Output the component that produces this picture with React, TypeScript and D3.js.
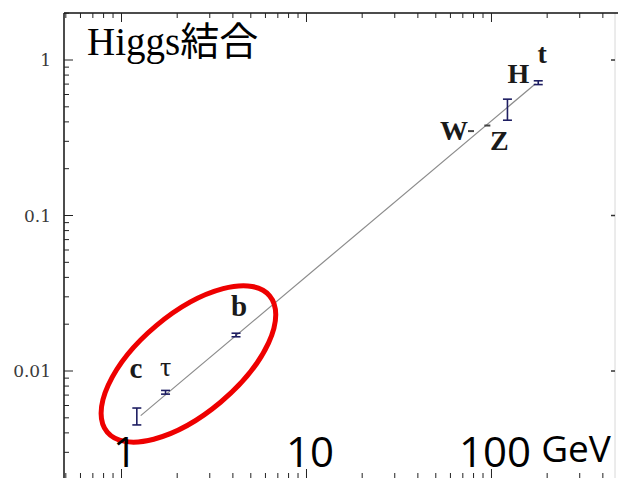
import React from "react";
import * as d3 from "d3";

// Particle labels, masses (GeV) and Higgs couplings with their error ranges
const particles = ["c", "τ", "b", "W", "Z", "H", "t"];
const masses = [1.21, 1.73, 4.16, 77.5, 95, 122, 179];
const couplings = [0.0051, 0.0073, 0.01705, 0.349, 0.379, 0.48, 0.715];
const couplingLow = [0.0045, 0.0071, 0.0166, 0.349, 0.379, 0.41, 0.695];
const couplingHigh = [0.00578, 0.0075, 0.0175, 0.349, 0.379, 0.56, 0.735];

// Standard-model expectation: coupling = mass / v
const vev = 246;
const lineMassRange = [1.27, 173];

// Axis tick labels
const yTickValues = [1, 0.1, 0.01];
const yTickLabels = ["1", "0.1", "0.01"];
const xTickValues = [1, 10, 100];
const xTickLabels = ["1", "10", "100"];
const xUnit = "GeV";
const title = "Higgs結合";

// Highlighted region (light fermions), centre in data units
const highlightCentre = { mass: 2.3, coupling: 0.0111 };

const W = 618;
const H = 478;

const x = d3.scaleLog().domain([0.49, 470]).range([64.2, 615.8]);
const y = d3.scaleLog().domain([0.002, 2]).range([479.7, 13.2]);

const AX_LEFT = 64;
const AX_TOP = 13;
const AX_RIGHT = 615;
const AX_BOTTOM = 479;

function minorTicks(lo: number, hi: number) {
  const out: { v: number; major: boolean }[] = [];
  for (let e = -4; e <= 4; e++) {
    for (let k = 1; k <= 9; k++) {
      const v = k * Math.pow(10, e);
      if (v >= lo && v <= hi) out.push({ v, major: k === 1 });
    }
  }
  return out;
}

// label placement relative to each marker
const labelStyle: Record<string, { dx: number; dy: number; anchor: string; bold: boolean; size: number }> = {
  c: { dx: -1, dy: -38, anchor: "middle", bold: true, size: 29 },
  "τ": { dx: 0, dy: -16, anchor: "middle", bold: false, size: 28 },
  b: { dx: 3, dy: -19, anchor: "middle", bold: true, size: 29 },
  W: { dx: -3, dy: 9, anchor: "end", bold: true, size: 28 },
  Z: { dx: 12, dy: 24.5, anchor: "middle", bold: true, size: 28 },
  H: { dx: 11, dy: -27, anchor: "middle", bold: true, size: 28 },
  t: { dx: 4, dy: -20, anchor: "middle", bold: true, size: 28 },
};

export default function App() {
  const xTicks = minorTicks(0.49, 470);
  const yTicks = minorTicks(0.00205, 2);
  const line = d3
    .line<number>()
    .x((m) => x(m))
    .y((m) => y(m / vev));
  const cx = x(highlightCentre.mass);
  const cy = y(highlightCentre.coupling);

  return (
    <svg
      width={W}
      height={H}
      style={{ position: "absolute", left: 0, top: 0, background: "#fff" }}
    >
      <rect width={W} height={H} fill="#fff" />

      {/* frame */}
      <line x1={AX_RIGHT} x2={AX_RIGHT} y1={AX_TOP} y2={H} stroke="#d8d8d8" strokeWidth={1} />
      <line x1={AX_LEFT} x2={W} y1={AX_TOP} y2={AX_TOP} stroke="#111" strokeWidth={1.5} />
      <line x1={AX_LEFT} x2={AX_LEFT} y1={AX_TOP} y2={H} stroke="#111" strokeWidth={1.5} />

      {/* top and bottom x ticks */}
      {xTicks.map((t, i) => (
        <g key={"xt" + i} stroke="#222" strokeWidth={1}>
          <line x1={x(t.v)} x2={x(t.v)} y1={AX_TOP} y2={AX_TOP + (t.major ? 9 : 5)} />
          <line x1={x(t.v)} x2={x(t.v)} y1={AX_BOTTOM} y2={AX_BOTTOM - (t.major ? 10 : 6)} />
        </g>
      ))}

      {/* left y ticks */}
      {yTicks.map((t, i) => (
        <line
          key={"yt" + i}
          x1={AX_LEFT}
          x2={AX_LEFT + (t.major ? 9 : 5)}
          y1={y(t.v)}
          y2={y(t.v)}
          stroke="#222"
          strokeWidth={1}
        />
      ))}
      {/* right y ticks */}
      {yTickValues.map((v, i) => (
        <line key={"ryt" + i} x1={AX_RIGHT} x2={AX_RIGHT - 4} y1={y(v)} y2={y(v)} stroke="#333" strokeWidth={1.5} />
      ))}

      {/* y tick labels */}
      {yTickValues.map((v, i) => (
        <text
          key={"yl" + i}
          x={51}
          y={y(v)}
          dy="0.36em"
          textAnchor="end"
          fontFamily="'DejaVu Serif', serif"
          fontSize={17}
          fill="#3a3a3a"
        >
          {yTickLabels[i]}
        </text>
      ))}

      {/* expectation line */}
      <path d={line(lineMassRange) || ""} fill="none" stroke="#8c8c8c" strokeWidth={1.2} />

      {/* measurements */}
      {particles.map((p, i) => {
        const px = x(masses[i]);
        const yl = y(couplingLow[i]);
        const yh = y(couplingHigh[i]);
        const isDash = couplingLow[i] === couplingHigh[i];
        return (
          <g key={"m" + i}>
            {isDash ? (
              <line x1={px - 3} x2={px + 3} y1={y(couplings[i])} y2={y(couplings[i])} stroke="#444" strokeWidth={2} />
            ) : (
              <g stroke="#1e1e62" strokeWidth={1.6}>
                <line x1={px} x2={px} y1={yh} y2={yl} />
                <line x1={px - 4.5} x2={px + 4.5} y1={yh} y2={yh} />
                <line x1={px - 4.5} x2={px + 4.5} y1={yl} y2={yl} />
              </g>
            )}
          </g>
        );
      })}

      {/* particle labels */}
      {particles.map((p, i) => {
        const s = labelStyle[p];
        return (
          <text
            key={"pl" + i}
            x={x(masses[i]) + s.dx}
            y={y(couplings[i]) + s.dy}
            textAnchor={s.anchor}
            fontFamily="'Liberation Serif', 'DejaVu Serif', serif"
            fontWeight={s.bold ? "bold" : "normal"}
            fontSize={s.size}
            fill="#1a1a1a"
          >
            {p}
          </text>
        );
      })}

      {/* highlight of the light fermions */}
      <ellipse
        cx={cx}
        cy={cy}
        rx={106}
        ry={50}
        transform={`rotate(-40 ${cx} ${cy})`}
        fill="none"
        stroke="#ee0000"
        strokeWidth={5}
      />

      {/* title */}
      <text
        x={87}
        y={55}
        fontFamily="'Liberation Serif', 'Noto Sans CJK JP', serif"
        fontSize={39}
        fill="#000"
      >
        {title}
      </text>

      {/* large x labels */}
      {xTickValues.map((v, i) => (
        <text
          key={"xl" + i}
          x={x(v) + 3.5}
          y={467}
          textAnchor="middle"
          fontFamily="'Open Sans', 'Noto Sans', sans-serif"
          fontSize={42}
          fill="#000"
        >
          {xTickLabels[i]}
        </text>
      ))}
      <text x={576} y={462} textAnchor="middle" fontFamily="'Open Sans', 'Noto Sans', sans-serif" fontSize={37} fill="#000">
        {xUnit}
      </text>
    </svg>
  );
}
